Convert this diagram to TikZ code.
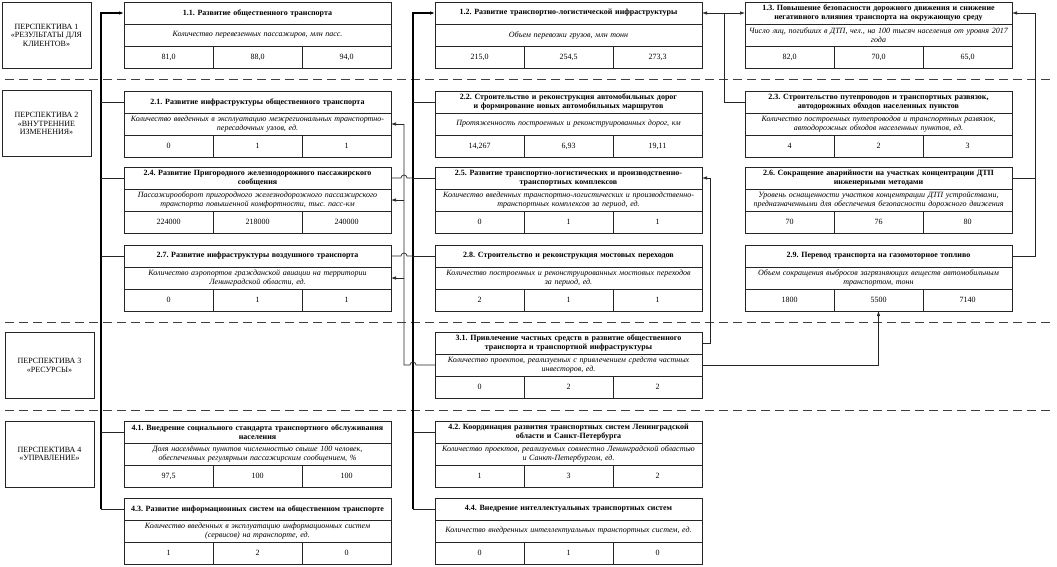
\documentclass[tikz,border=0pt]{standalone}
\usepackage{fontspec}
\setmainfont{Liberation Serif}
\usetikzlibrary{arrows.meta,calc}
\newcommand{\drawGoal}[7]{
    \node[titlebox] (#1) at (#2) {#3};
    \node[indbox, anchor=north] (#1i) at (#1.south) {#4};
    \node[valbox, anchor=north west] (#1a) at (#1i.south west) {#5};
    \node[valbox, anchor=north west] (#1b) at (#1a.north east) {#6};
    \node[valbox, anchor=north west] (#1c) at (#1b.north east) {#7};
}

\begin{document}
\frenchspacing
\begin{tikzpicture}[x=1pt,y=-1pt,
    >={Latex[length=5pt,width=3.5pt]},
    titlebox/.style={draw=black!85, line width=0.8pt, outer sep=0pt, anchor=north west, minimum height=22pt, text width=261pt, inner xsep=3pt, inner ysep=0pt, align=center, font=\fontsize{8}{8.5}\selectfont\bfseries},
    indbox/.style={draw=black!85, line width=0.8pt, outer sep=0pt, minimum height=22pt, text width=261pt, inner xsep=3pt, inner ysep=0pt, align=center, font=\fontsize{8}{8.5}\selectfont\itshape},
    valbox/.style={draw=black!85, line width=0.8pt, outer sep=0pt, minimum width=89pt, minimum height=22pt, inner sep=0pt, font=\fontsize{8}{9}\selectfont},
    perspbox/.style={draw=black!85, line width=0.8pt, minimum width=89pt, minimum height=66pt, align=center, font=\fontsize{8}{8.5}\selectfont},
    sep/.style={draw=black!75, line width=0.8pt, dash pattern=on 9pt off 5pt},
    bus/.style={draw=black, line width=1.6pt},
    link/.style={draw=black!85, line width=0.7pt}]
    \useasboundingbox (0,0) rectangle (1057,566);

    \draw[sep] (5,79) -- (1052,79);
    \draw[sep] (5,322) -- (1052,322);
    \draw[sep] (5,410) -- (1052,410);

    \node[perspbox] (p1) at (46.5,35) {ПЕРСПЕКТИВА 1\\«РЕЗУЛЬТАТЫ ДЛЯ\\КЛИЕНТОВ»};
    \node[perspbox] (p2) at (46.5,123.5) {ПЕРСПЕКТИВА 2\\«ВНУТРЕННИЕ\\ИЗМЕНЕНИЯ»};
    \node[perspbox] (p3) at (49.5,365.5) {ПЕРСПЕКТИВА 3\\«РЕСУРСЫ»};
    \node[perspbox] (p4) at (49.5,454) {ПЕРСПЕКТИВА 4\\«УПРАВЛЕНИЕ»};

    \drawGoal{g11}{124,2}{1.1. Развитие общественного транспорта}{Количество перевезенных пассажиров, млн пасс.}{81,0}{88,0}{94,0}
    \drawGoal{g12}{435,2}{1.2. Развитие транспортно-логистической инфраструктуры}{Объем перевозки грузов, млн тонн}{215,0}{254,5}{273,3}
    \drawGoal{g13}{745,2}{1.3. Повышение безопасности дорожного движения и снижение\\негативного влияния транспорта на окружающую среду}{Число лиц, погибших в ДТП, чел., на 100 тысяч населения от уровня 2017\\года}{82,0}{70,0}{65,0}

    \drawGoal{g21}{124,91}{2.1. Развитие инфраструктуры общественного транспорта}{Количество введенных в эксплуатацию межрегиональных транспортно-\\пересадочных узлов, ед.}{0}{1}{1}
    \drawGoal{g22}{435,91}{2.2. Строительство и реконструкция автомобильных дорог\\и формирование новых автомобильных маршрутов}{Протяженность построенных и реконструированных дорог, км}{14,267}{6,93}{19,11}
    \drawGoal{g23}{745,91}{2.3. Строительство путепроводов и транспортных развязок,\\автодорожных обходов населенных пунктов}{Количество построенных путепроводов и транспортных развязок,\\автодорожных обходов населенных пунктов, ед.}{4}{2}{3}

    \drawGoal{g24}{124,167}{2.4. Развитие Пригородного железнодорожного пассажирского\\сообщения}{Пассажирооборот пригородного железнодорожного пассажирского\\транспорта повышенной комфортности, тыс. пасс-км}{224000}{218000}{240000}
    \drawGoal{g25}{435,167}{2.5. Развитие транспортно-логистических и производственно-\\транспортных комплексов}{Количество введенных транспортно-логистических и производственно-\\транспортных комплексов за период, ед.}{0}{1}{1}
    \drawGoal{g26}{745,167}{2.6. Сокращение аварийности на участках концентрации ДТП\\инженерными методами}{Уровень оснащенности участков концентрации ДТП устройствами,\\предназначенными для обеспечения безопасности дорожного движения}{70}{76}{80}

    \drawGoal{g27}{124,245}{2.7. Развитие инфраструктуры воздушного транспорта}{Количество аэропортов гражданской авиации на территории\\Ленинградской области, ед.}{0}{1}{1}
    \drawGoal{g28}{435,245}{2.8. Строительство и реконструкция мостовых переходов}{Количество построенных и реконструированных мостовых переходов\\за период, ед.}{2}{1}{1}
    \drawGoal{g29}{745,245}{2.9. Перевод транспорта на газомоторное топливо}{Объем сокращения выбросов загрязняющих веществ автомобильным\\транспортом, тонн}{1800}{5500}{7140}

    \drawGoal{g31}{435,332}{3.1. Привлечение частных средств в развитие общественного\\транспорта и транспортной инфраструктуры}{Количество проектов, реализуемых с привлечением средств частных\\инвесторов, ед.}{0}{2}{2}

    \drawGoal{g41}{124,421}{4.1. Внедрение социального стандарта транспортного обслуживания\\населения}{Доля населённых пунктов численностью свыше 100 человек,\\обеспеченных регулярным пассажирским сообщением, \%}{97,5}{100}{100}
    \drawGoal{g42}{435,421}{4.2. Координация развития транспортных систем Ленинградской\\области и Санкт-Петербурга}{Количество проектов, реализуемых совместно Ленинградской областью\\и Санкт-Петербургом, ед.}{1}{3}{2}
    \drawGoal{g43}{124,498}{4.3. Развитие информационных систем на общественном транспорте}{Количество введенных в эксплуатацию информационных систем\\(сервисов) на транспорте, ед.}{1}{2}{0}
    \drawGoal{g44}{435,498}{4.4. Внедрение интеллектуальных транспортных систем}{Количество внедренных интеллектуальных транспортных систем, ед.}{0}{1}{0}

    \coordinate (busA) at (101,0);
    \coordinate (busB) at (413,0);
    \coordinate (lineC) at (404,0);
    \coordinate (lineD) at (710,0);
    \coordinate (lineF) at (1035,0);
    \coordinate (lineG) at (724,0);

    \draw[bus,->] (g43.west -| busA) |- (g11.west);
    \foreach \g in {g21,g24,g27,g41,g43}
        \draw[link] (\g.west -| busA) -- (\g.west);

    \draw[bus,->] (g44.west -| busB) |- (g12.west);
    \foreach \g in {g22,g25,g28,g42,g44}
        \draw[link] (\g.west -| busB) -- (\g.west);
    \foreach \g in {g24,g27}
        \draw[link] (\g.east) -- ($(\g.east -| lineC)+(-3,0)$) arc[start angle=180,end angle=360,radius=3] -- (\g.east -| busB);

    \draw[link] (g31i.west) -- ($(g31i.west -| busB)+(3,0)$) arc[start angle=0,end angle=-180,radius=3] -- (g31i.west -| lineC) -- (g21i.east -| lineC);
    \foreach \g in {g21i,g24i,g27i}
        \draw[link,->] (\g.east -| lineC) -- (\g.east);

    \draw[link,->] (g31.east) -- (g31.east -| lineD) |- (g25.east);
    \draw[link,->] (g31i.east) -| (g29b.south);

    \draw[link,->] (g29.east) -- (g29.east -| lineF) |- (g13.east);
    \draw[link] (g26.east) -- (g26.east -| lineF);

    \draw[link,<->] (g12.east) -- (g13.west);
    \draw[link] (g23.west) -| (g12.east -| lineG);
\end{tikzpicture}
\end{document}
